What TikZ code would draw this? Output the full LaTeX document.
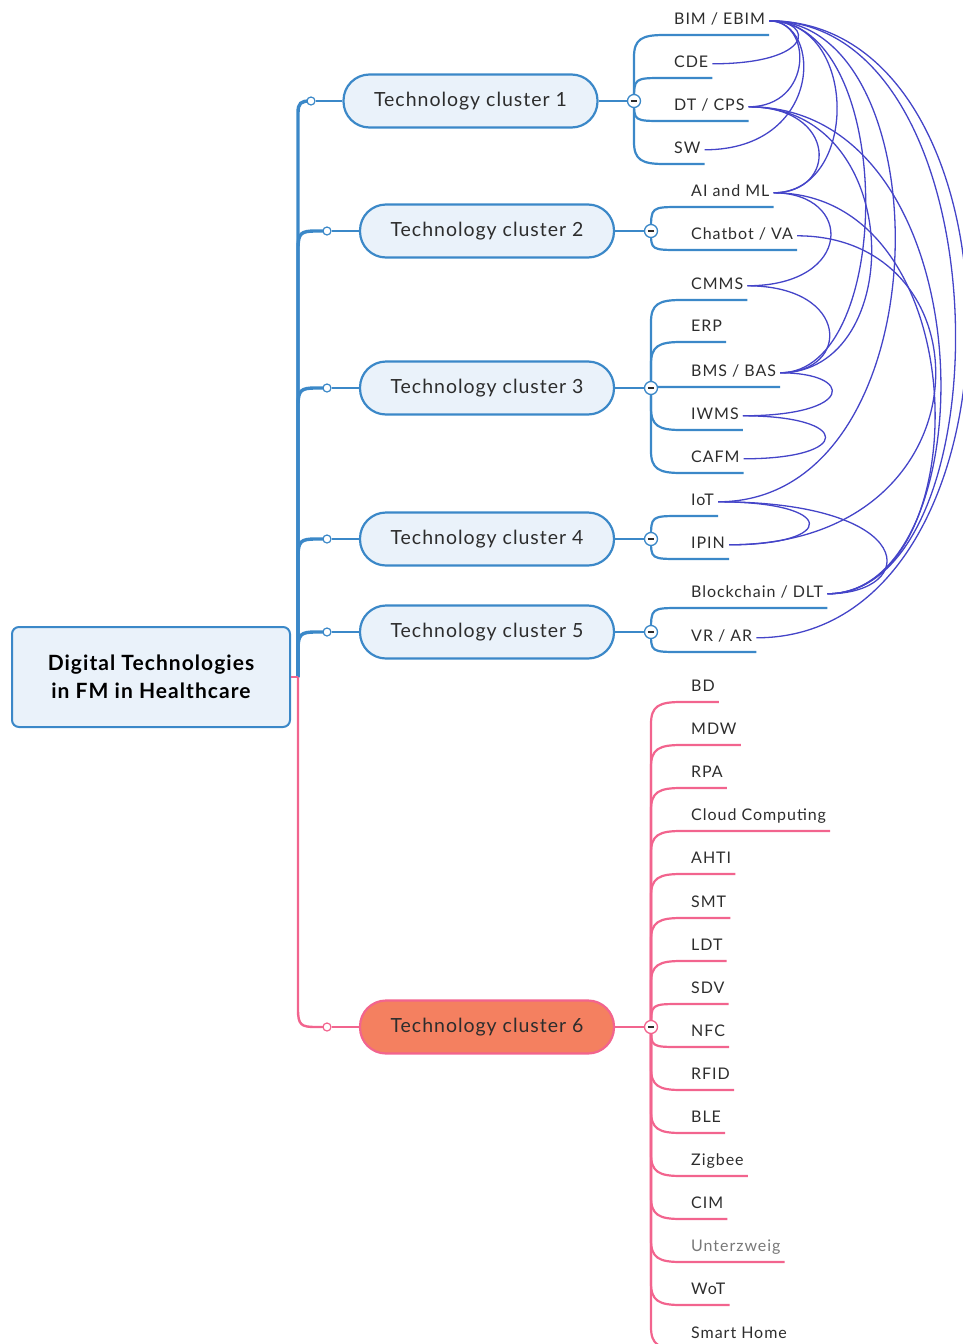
\documentclass[tikz,border=0pt]{standalone}
\usepackage{fontspec}
\setmainfont{Lato}
\newfontfamily\leaffont[LetterSpace=6]{Lato}
\newfontfamily\clfont[LetterSpace=5]{Lato}
\newfontfamily\rootfont[LetterSpace=5]{Lato}
\usetikzlibrary{calc}
\definecolor{brblue}{RGB}{59,136,200}
\definecolor{nodefill}{RGB}{234,242,250}
\definecolor{pinkline}{RGB}{242,100,142}
\definecolor{coral}{RGB}{244,128,96}
\definecolor{relcol}{RGB}{68,68,200}
\definecolor{txt}{RGB}{45,45,45}
\definecolor{lighttxt}{RGB}{120,120,120}
\tikzset{
  rootbox/.style={draw=brblue, line width=2pt, fill=nodefill, rounded corners=7pt,
    minimum width=278pt, minimum height=100pt, align=center,
    font=\rootfont\fontsize{21}{28}\selectfont\bfseries, text=black},
  cluster/.style={draw=brblue, line width=2.2pt, fill=nodefill, rounded corners=26pt,
    minimum width=254pt, minimum height=53pt, font=\clfont\fontsize{19.5}{21}\selectfont, text=txt},
  cluster6/.style={cluster, draw=pinkline, fill=coral},
  leaf/.style={anchor=south west, inner xsep=4pt, inner ysep=7pt, text height=11pt,
    text depth=3pt, font=\leaffont\fontsize{16}{18}\selectfont, text=txt},
  brB/.style={draw=brblue, line width=2.2pt},
  brP/.style={draw=pinkline, line width=2.2pt},
  trunkB/.style={draw=brblue, line width=3.4pt},
  trunkP/.style={draw=pinkline, line width=2.4pt},
  knob/.style={circle, draw=brblue, line width=1.3pt, fill=white, minimum size=13pt, inner sep=0pt},
  knobP/.style={knob, draw=pinkline},
  dot/.style={circle, draw=brblue, line width=1.2pt, fill=white, minimum size=8pt, inner sep=0pt},
  dotP/.style={dot, draw=pinkline},
  rel/.style={draw=relcol, line width=1.3pt},
}
% branch from knob coordinate #1 to leaf #2, style #3
\newcommand\bup[3]{\draw[#3] (#1) -- ($(#1 |- #2.south west)+(0,22)$)
  .. controls ($(#1 |- #2.south west)+(0,4)$) and ($(#1 |- #2.south west)+(8,0)$)
  .. ($(#1 |- #2.south west)+(30,0)$) -- (#2.south east);}
\newcommand\bdn[3]{\draw[#3] (#1) -- ($(#1 |- #2.south west)+(0,-22)$)
  .. controls ($(#1 |- #2.south west)+(0,-4)$) and ($(#1 |- #2.south west)+(8,0)$)
  .. ($(#1 |- #2.south west)+(30,0)$) -- (#2.south east);}
\newcommand\bnear[3]{\draw[#3] (#1) .. controls (#1 |- #2.south west)
  .. ($(#1 |- #2.south west)+(30,0)$) -- (#2.south east);}
% trunk from (tr) to dot coordinate #1, style #2, radius #3, direction sign #4
\newcommand\tbr[4]{\draw[#2] (tr) -- ($(tr |- #1)+(0,#4*#3)$)
  .. controls ($(tr |- #1)+(0,#4*2)$) and ($(tr |- #1)+(3,0)$)
  .. ($(tr |- #1)+(#3,0)$) -- (#1);}
% relationship curve
\newcommand\rl[4]{\draw[rel] (#1.east) .. controls (#1.east -| #3,0) and (#2.east -| #4,0) .. (#2.east);}
\newcommand\minus{{\color{txt}\rule[-0.7pt]{6.5pt}{1.4pt}}}
\begin{document}
\begin{tikzpicture}[x=1pt,y=-1pt]
\useasboundingbox (0,0) rectangle (963,1344);

% root and clusters
\node[rootbox] (root) at (151,677) {Digital Technologies\\in FM in Healthcare};
\node[cluster] (c1) at (470.5,101) {Technology cluster 1};
\node[cluster] (c2) at (487,231) {Technology cluster 2};
\node[cluster] (c3) at (487,388) {Technology cluster 3};
\node[cluster] (c4) at (487,539) {Technology cluster 4};
\node[cluster] (c5) at (487,632) {Technology cluster 5};
\node[cluster6] (c6) at (487,1027) {Technology cluster 6};

% trunk
\coordinate (tr) at (298,677);
\coordinate (p1) at (311,101);
\coordinate (p2) at (327,231);
\coordinate (p3) at (327,388);
\coordinate (p4) at (327,539);
\coordinate (p5) at (327,632);
\coordinate (p6) at (327,1027);
\tbr{p5}{trunkB}{18}{1}
\tbr{p4}{trunkB}{18}{1}
\tbr{p3}{trunkB}{18}{1}
\tbr{p2}{trunkB}{18}{1}
\tbr{p1}{trunkB}{12}{1}
\draw[trunkP] (root.east) -- (tr);
\tbr{p6}{trunkP}{18}{-1}
\node[dot] (d1) at (p1) {};
\node[dot] (d2) at (p2) {};
\node[dot] (d3) at (p3) {};
\node[dot] (d4) at (p4) {};
\node[dot] (d5) at (p5) {};
\node[dotP] (d6) at (p6) {};
\draw[brB] (d1) -- (c1);
\draw[brB] (d2) -- (c2);
\draw[brB] (d3) -- (c3);
\draw[brB] (d4) -- (c4);
\draw[brB] (d5) -- (c5);
\draw[brP] (d6) -- (c6);

% knobs
\coordinate (q1) at (634,101);
\coordinate (q2) at (651,231);
\coordinate (q3) at (651,388);
\coordinate (q4) at (651,539);
\coordinate (q5) at (651,632);
\coordinate (q6) at (651,1027);

% leaves cluster 1
\node[leaf] (bim) at (670,35) {BIM / EBIM};
\node[leaf] (cde) at (670,78) {CDE};
\node[leaf] (dt) at (670,121) {DT / CPS};
\node[leaf] (sw) at (670,164) {SW};
% cluster 2
\node[leaf] (ai) at (687,207) {AI and ML};
\node[leaf] (chat) at (687,250) {Chatbot / VA};
% cluster 3
\node[leaf] (cmms) at (687,300) {CMMS};
\node[leaf] (erp) at (687,342) {ERP};
\node[leaf] (bms) at (687,387) {BMS / BAS};
\node[leaf] (iwms) at (687,430) {IWMS};
\node[leaf] (cafm) at (687,473) {CAFM};
% cluster 4
\node[leaf] (iot) at (687,516) {IoT};
\node[leaf] (ipin) at (687,559) {IPIN};
% cluster 5
\node[leaf] (bc) at (687,608) {Blockchain / DLT};
\node[leaf] (vr) at (687,652) {VR / AR};
% cluster 6
\node[leaf] (l1) at (687,702) {BD};
\node[leaf] (l2) at (687,745) {MDW};
\node[leaf] (l3) at (687,788) {RPA};
\node[leaf] (l4) at (687,831) {Cloud Computing};
\node[leaf] (l5) at (687,874) {AHTI};
\node[leaf] (l6) at (687,918) {SMT};
\node[leaf] (l7) at (687,961) {LDT};
\node[leaf] (l8) at (687,1004) {SDV};
\node[leaf] (l9) at (687,1047) {NFC};
\node[leaf] (l10) at (687,1090) {RFID};
\node[leaf] (l11) at (687,1133) {BLE};
\node[leaf] (l12) at (687,1176) {Zigbee};
\node[leaf] (l13) at (687,1219) {CIM};
\node[leaf, text=lighttxt] (l14) at (687,1262) {Unterzweig};
\node[leaf] (l15) at (687,1305) {WoT};
\node[leaf] (l16) at (687,1349) {Smart Home};

% branches
\bup{q1}{bim}{brB}
\bnear{q1}{cde}{brB}
\bnear{q1}{dt}{brB}
\bdn{q1}{sw}{brB}
\bnear{q2}{ai}{brB}
\bnear{q2}{chat}{brB}
\bup{q3}{cmms}{brB}
\bup{q3}{erp}{brB}
\bnear{q3}{bms}{brB}
\bdn{q3}{iwms}{brB}
\bdn{q3}{cafm}{brB}
\bnear{q4}{iot}{brB}
\bnear{q4}{ipin}{brB}
\bnear{q5}{bc}{brB}
\bnear{q5}{vr}{brB}
\bup{q6}{l1}{brP}
\bup{q6}{l2}{brP}
\bup{q6}{l3}{brP}
\bup{q6}{l4}{brP}
\bup{q6}{l5}{brP}
\bup{q6}{l6}{brP}
\bup{q6}{l7}{brP}
\bnear{q6}{l8}{brP}
\bnear{q6}{l9}{brP}
\bdn{q6}{l10}{brP}
\bdn{q6}{l11}{brP}
\bdn{q6}{l12}{brP}
\bdn{q6}{l13}{brP}
\bdn{q6}{l14}{brP}
\bdn{q6}{l15}{brP}
\bdn{q6}{l16}{brP}

\node[knob] (k1) at (q1) {\minus};
\node[knob] (k2) at (q2) {\minus};
\node[knob] (k3) at (q3) {\minus};
\node[knob] (k4) at (q4) {\minus};
\node[knob] (k5) at (q5) {\minus};
\node[knobP] (k6) at (q6) {\minus};
\draw[brB] (c1) -- (k1);
\draw[brB] (c2) -- (k2);
\draw[brB] (c3) -- (k3);
\draw[brB] (c4) -- (k4);
\draw[brB] (c5) -- (k5);
\draw[brP] (c6) -- (k6);

% relationships
\rl{bim}{cde}{815}{815}
\rl{bim}{dt}{813}{813}
\rl{bim}{sw}{823}{823}
\rl{bim}{ai}{859}{859}
\rl{dt}{ai}{838}{838}
\rl{ai}{cmms}{854}{854}
\rl{cmms}{bms}{851}{851}
\rl{bms}{iwms}{855}{855}
\rl{iwms}{cafm}{853}{853}
\rl{iot}{ipin}{838}{838}
\rl{iot}{bc}{920}{920}
\rl{bim}{bms}{896}{896}
\rl{dt}{bms}{907}{907}
\rl{bim}{iot}{945}{945}
\rl{bim}{bc}{1007}{1007}
\rl{bim}{vr}{1036}{1036}
\rl{dt}{bc}{990}{990}
\rl{ai}{bc}{979}{979}
\rl{chat}{ipin}{992}{992}
\end{tikzpicture}
\end{document}
